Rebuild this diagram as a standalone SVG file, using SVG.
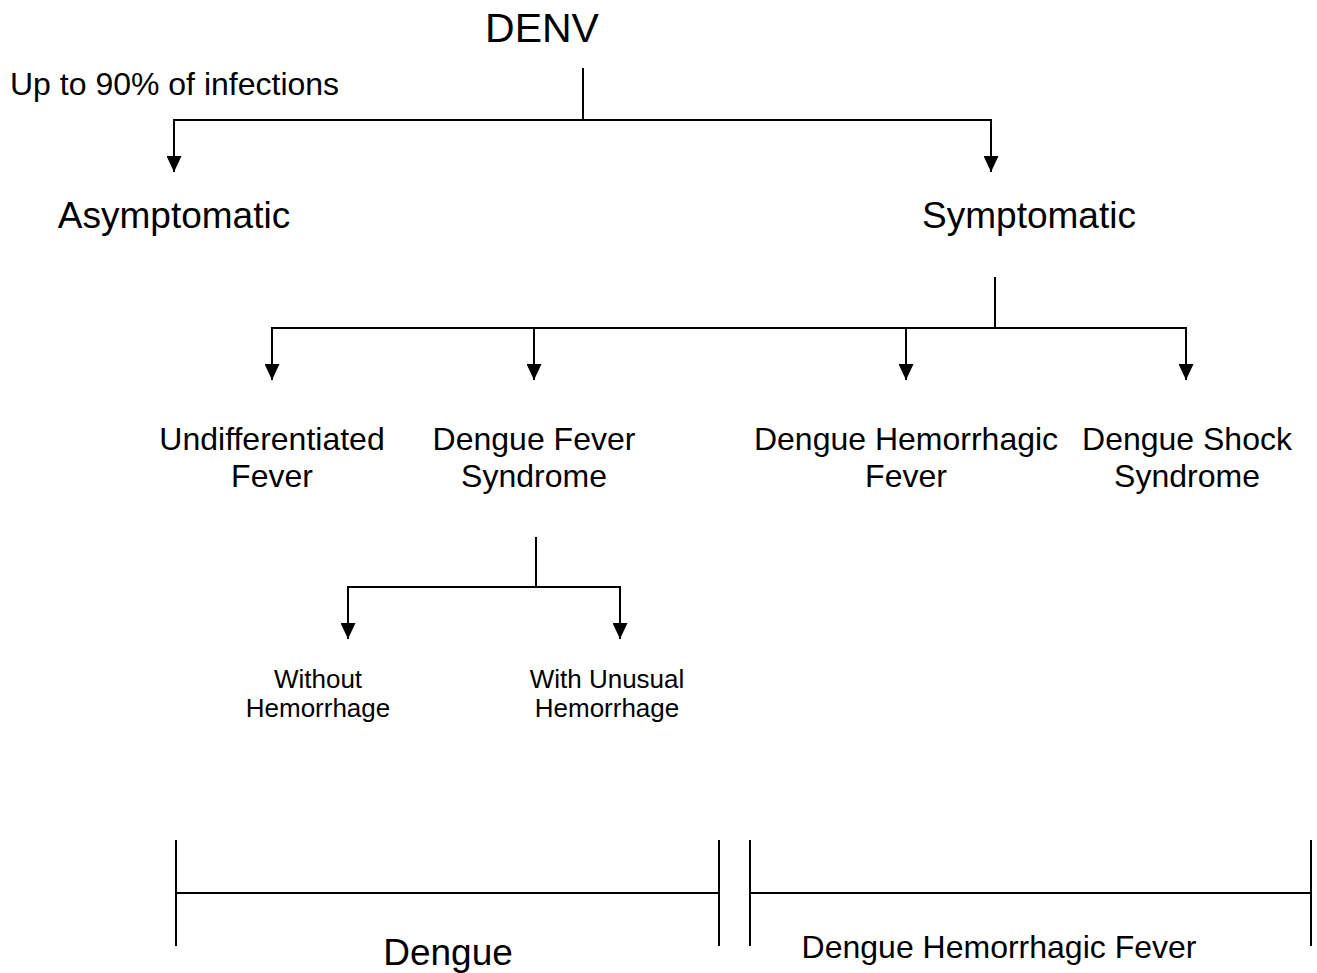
<svg xmlns="http://www.w3.org/2000/svg" width="1317" height="973" viewBox="0 0 1317 973">
<defs>
<marker id="arr" markerWidth="16" markerHeight="15" refX="16" refY="7.5" orient="auto" markerUnits="userSpaceOnUse" viewBox="0 0 16 15">
<path d="M0,0 L16,7.5 L0,15 Z" fill="#000"/>
</marker>
<style>
text{font-family:"Liberation Sans",Arial,sans-serif;fill:#000;text-anchor:middle}
.c line{stroke:#000;stroke-width:2;fill:none}
.a{marker-end:url(#arr)}
</style>
</defs>
<rect width="1317" height="973" fill="#fff"/>
<g class="c" id="connectors">
<line x1="583" y1="68" x2="583" y2="120"/>
<line x1="173" y1="120" x2="992" y2="120"/>
<line class="a" x1="174" y1="120" x2="174" y2="172"/>
<line class="a" x1="991" y1="120" x2="991" y2="172"/>
<line x1="995" y1="277" x2="995" y2="328"/>
<line x1="271" y1="328" x2="1187" y2="328"/>
<line class="a" x1="272" y1="328" x2="272" y2="380"/>
<line class="a" x1="534" y1="328" x2="534" y2="380"/>
<line class="a" x1="906" y1="328" x2="906" y2="380"/>
<line class="a" x1="1186" y1="328" x2="1186" y2="380"/>
<line x1="536" y1="537" x2="536" y2="587"/>
<line x1="347" y1="587" x2="621" y2="587"/>
<line class="a" x1="348" y1="587" x2="348" y2="639"/>
<line class="a" x1="620" y1="587" x2="620" y2="639"/>
<line x1="176" y1="840" x2="176" y2="946"/>
<line x1="176" y1="893" x2="719" y2="893"/>
<line x1="719" y1="840" x2="719" y2="946"/>
<line x1="750" y1="840" x2="750" y2="946"/>
<line x1="750" y1="893" x2="1311" y2="893"/>
<line x1="1311" y1="840" x2="1311" y2="946"/>
</g>
<g id="denv"><text x="542" y="42" font-size="41">DENV</text></g>
<g id="note"><text x="10" y="95" font-size="32" style="text-anchor:start">Up to 90% of infections</text></g>
<g id="asymptomatic"><text x="174" y="228" font-size="37">Asymptomatic</text></g>
<g id="symptomatic"><text x="1029" y="228" font-size="37">Symptomatic</text></g>
<g id="undiff"><text x="272" y="450" font-size="32">Undifferentiated</text><text x="272" y="487" font-size="32">Fever</text></g>
<g id="dfs"><text x="534" y="450" font-size="32">Dengue Fever</text><text x="534" y="487" font-size="32">Syndrome</text></g>
<g id="dhf"><text x="906" y="450" font-size="32">Dengue Hemorrhagic</text><text x="906" y="487" font-size="32">Fever</text></g>
<g id="dss"><text x="1187" y="450" font-size="32">Dengue Shock</text><text x="1187" y="487" font-size="32">Syndrome</text></g>
<g id="without"><text x="318" y="688" font-size="26">Without</text><text x="318" y="717" font-size="26">Hemorrhage</text></g>
<g id="with"><text x="607" y="688" font-size="26">With Unusual</text><text x="607" y="717" font-size="26">Hemorrhage</text></g>
<g id="dengue"><text x="448" y="965" font-size="37">Dengue</text></g>
<g id="dhf-range"><text x="999" y="958" font-size="32">Dengue Hemorrhagic Fever</text></g>
</svg>
